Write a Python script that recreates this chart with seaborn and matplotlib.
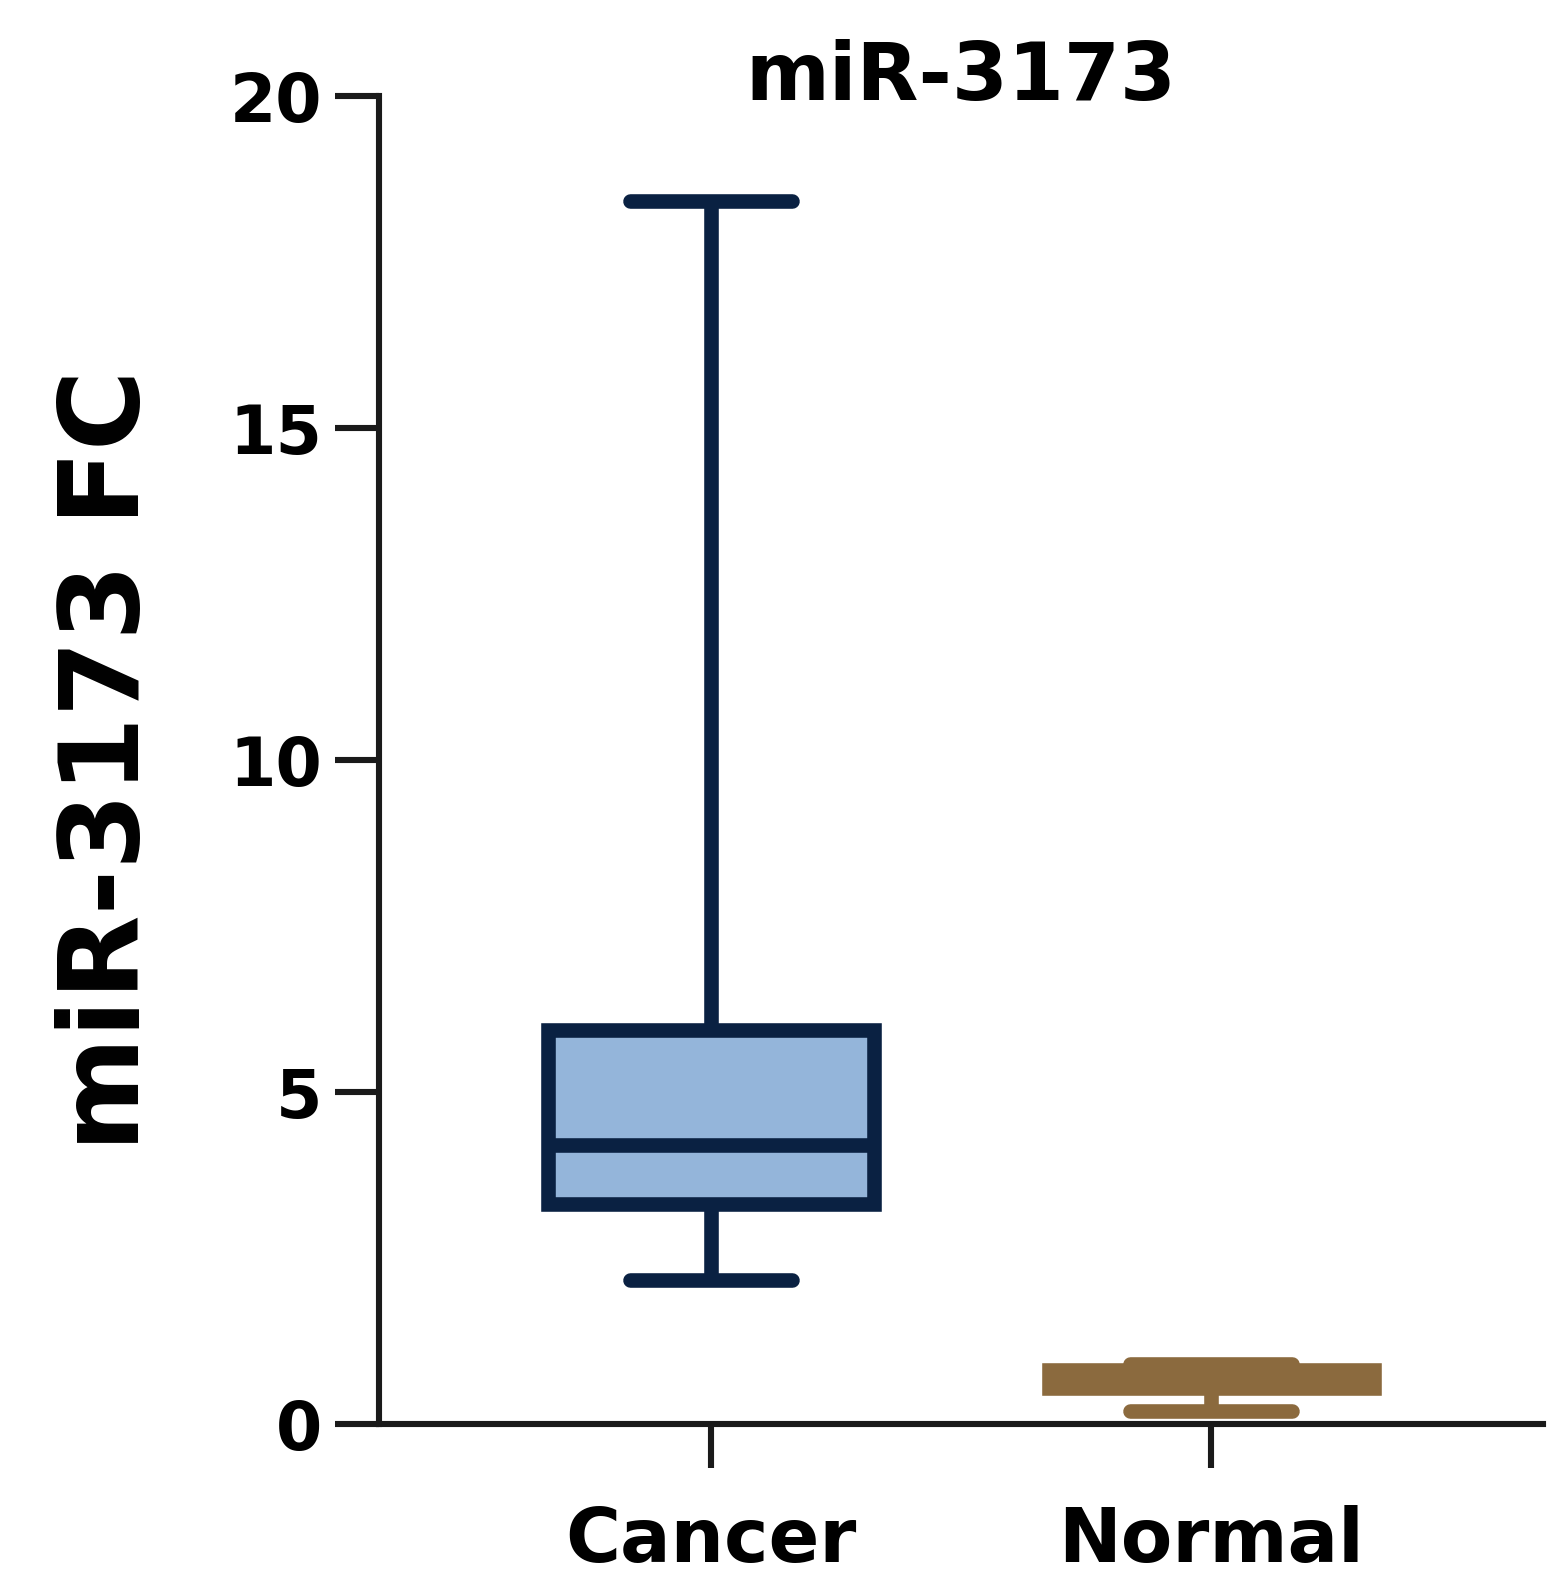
import pandas as pd
import matplotlib
matplotlib.use("Agg")
import matplotlib.pyplot as plt
import seaborn as sns

# Datos (mín, Q1, mediana, Q3, máx)
groups = ["Cancer", "Normal"]
cancer_vals = [2.17, 3.31, 4.2, 5.93, 18.42]
normal_vals = [0.2, 0.54, 0.68, 0.82, 0.9]
fill_colors = ["#94B5DA", "#8B6A3E"]
edge_colors = ["#0A2142", "#8B6A3E"]
y_ticks = [0, 5, 10, 15, 20]

df = pd.DataFrame({
    "grupo": ["Cancer"] * len(cancer_vals) + ["Normal"] * len(normal_vals),
    "FC": cancer_vals + normal_vals,
})

sns.set_style("white")
plt.rcParams["font.family"] = ["DejaVu Sans"]
plt.rcParams["font.weight"] = "bold"
plt.rcParams["text.color"] = "black"
plt.rcParams["axes.labelcolor"] = "black"

fig = plt.figure(figsize=(15.68, 15.86), dpi=100)
ax = fig.add_axes([0.2417, 0.1021, 0.7424, 0.8374])

for g, fc, ec in zip(groups, fill_colors, edge_colors):
    sns.boxplot(data=df[df["grupo"] == g], x="grupo", y="FC", order=groups,
                color=fc, linecolor=ec, saturation=1, whis=(0, 100),
                width=0.65, linewidth=10.5, showfliers=False, ax=ax)

ax.set_xlim(-0.664, 1.664)
ax.set_ylim(0, 20)
ax.set_yticks(y_ticks)
ax.set_yticklabels([str(t) for t in y_ticks], fontsize=48, fontweight="bold")
ax.set_xticks(range(len(groups)))
ax.set_xticklabels(groups, fontsize=54, fontweight="bold")

ax.set_xlabel("")
ax.set_ylabel("miR-3173 FC", fontsize=79, fontweight="bold", labelpad=48,
              color="black")
ax.set_title("miR-3173", fontsize=58, fontweight="bold", pad=-3, color="black")

sns.despine(ax=ax)
for s in ["left", "bottom"]:
    ax.spines[s].set_linewidth(4.4)
    ax.spines[s].set_color("#1a1a1a")
ax.tick_params(axis="both", which="major", length=32, width=4.4,
               color="#1a1a1a", labelcolor="black", bottom=True, left=True)
ax.tick_params(axis="y", pad=9)
ax.tick_params(axis="x", pad=26)

fig.savefig("out.png", dpi=100)
